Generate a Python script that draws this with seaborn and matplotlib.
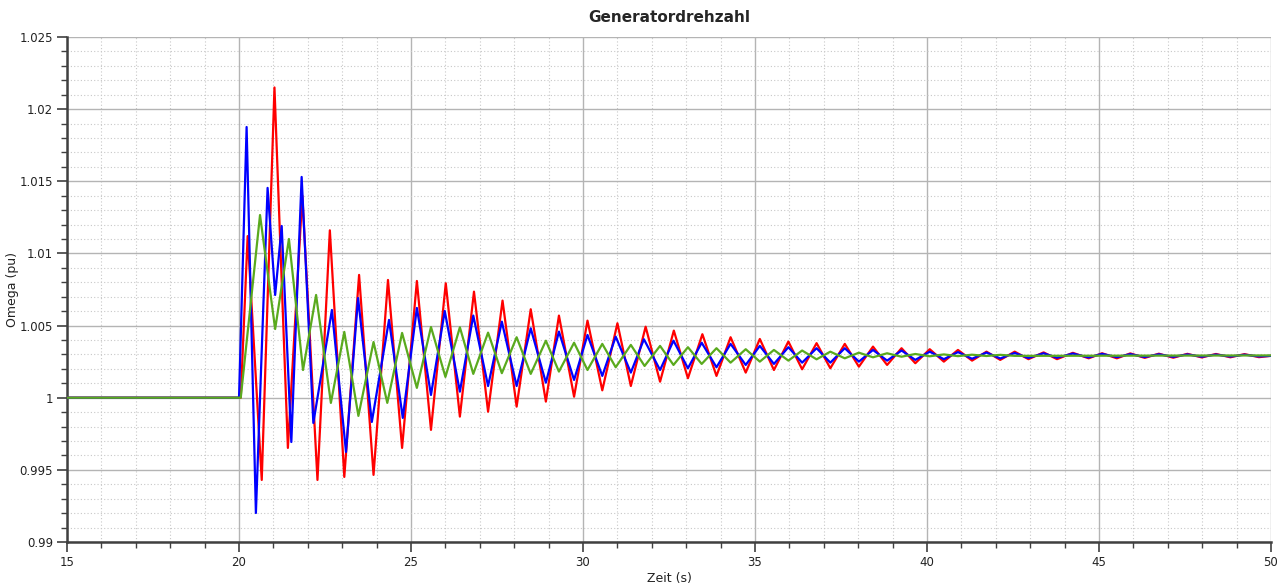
import numpy as np
import pandas as pd
import matplotlib
matplotlib.use("Agg")
import matplotlib.pyplot as plt
from matplotlib.ticker import MultipleLocator, FuncFormatter
import seaborn as sns

# Extremwerte der Kurven (Zeit in s, Omega in pu)
zeit_rot = [15.0, 20.05, 20.25, 20.66, 21.03, 21.42, 21.84, 22.28, 22.64, 23.06,
            23.49, 23.91, 24.33, 24.74, 25.17, 25.58, 26.01, 26.42, 26.83, 27.24,
            27.66, 28.07, 28.48, 28.92, 29.30, 29.74, 30.13, 30.56, 31.00, 31.39,
            31.82, 32.24, 32.64, 33.05, 33.47, 33.88, 34.29, 34.73, 35.14, 35.55,
            35.97, 36.37, 36.79, 37.19, 37.61, 38.02, 38.43, 38.84, 39.26, 39.66,
            40.08, 40.49, 40.90, 41.31, 41.73, 42.13, 42.55, 42.95, 43.39, 43.78,
            44.24, 44.70, 45.09, 45.52, 45.91, 46.33, 46.74, 47.16, 47.57, 47.99,
            48.40, 48.82, 49.23, 49.65, 50.0]
omega_rot = [1.0, 1.0, 1.0112, 0.9943, 1.0215, 0.99652, 1.0140, 0.9943, 1.0116, 0.99451,
             1.00851, 0.99465, 1.00816, 0.99652, 1.00809, 0.99777, 1.00793, 0.99869, 1.00735, 0.99903,
             1.00673, 0.99938, 1.00613, 0.99973, 1.00569, 1.00007, 1.00534, 1.00051, 1.00516, 1.00081,
             1.00492, 1.00111, 1.00465, 1.00135, 1.0044, 1.00151, 1.00419, 1.00174, 1.00407, 1.00192,
             1.00389, 1.00197, 1.00378, 1.00204, 1.00373, 1.00215, 1.00354, 1.00227, 1.00343, 1.00239,
             1.00336, 1.0025, 1.00331, 1.00257, 1.00319, 1.00262, 1.00319, 1.00267, 1.00314, 1.00267,
             1.00311, 1.00273, 1.00308, 1.00273, 1.00307, 1.00276, 1.00305, 1.00277, 1.00304, 1.00279,
             1.00303, 1.0028, 1.00302, 1.00281, 1.0029]

zeit_blau = [15.0, 20.0, 20.22, 20.49, 20.83, 21.05, 21.24, 21.52, 21.82, 22.16,
             22.70, 23.11, 23.46, 23.86, 24.36, 24.76, 25.17, 25.58, 25.98, 26.42,
             26.81, 27.24, 27.64, 28.07, 28.48, 28.92, 29.30, 29.74, 30.13, 30.56,
             30.95, 31.39, 31.77, 32.24, 32.63, 33.05, 33.45, 33.88, 34.29, 34.73,
             35.14, 35.55, 35.97, 36.37, 36.79, 37.19, 37.61, 38.02, 38.43, 38.84,
             39.26, 39.66, 40.08, 40.49, 40.90, 41.31, 41.73, 42.13, 42.55, 42.95,
             43.39, 43.78, 44.24, 44.70, 45.09, 45.52, 45.91, 46.33, 46.74, 47.16,
             47.57, 47.99, 48.40, 48.82, 49.23, 49.65, 50.0]
omega_blau = [1.0, 1.0, 1.01876, 0.99201, 1.01454, 1.00712, 1.0119, 0.99693, 1.0153, 0.99825,
              1.00608, 0.99624, 1.00691, 0.99832, 1.00539, 0.9986, 1.00622, 1.00019, 1.00601, 1.00042,
              1.00569, 1.00081, 1.00527, 1.00081, 1.00481, 1.00104, 1.00458, 1.00123, 1.00435, 1.00151,
              1.00423, 1.00174, 1.00405, 1.00192, 1.00395, 1.00204, 1.00381, 1.00211, 1.00373, 1.00227,
              1.00359, 1.00234, 1.0035, 1.00243, 1.00343, 1.00243, 1.00343, 1.0025, 1.00331, 1.00257,
              1.00327, 1.00262, 1.00319, 1.00267, 1.00316, 1.0027, 1.00313, 1.00272, 1.0031, 1.00275,
              1.00308, 1.00277, 1.00306, 1.00279, 1.00304, 1.00281, 1.00302, 1.00282, 1.00301, 1.00283,
              1.003, 1.00284, 1.00299, 1.00285, 1.00298, 1.00286, 1.0029]

zeit_gruen = [15.0, 20.05, 20.61, 21.05, 21.45, 21.86, 22.24, 22.67, 23.06, 23.47,
              23.91, 24.31, 24.74, 25.17, 25.58, 26.00, 26.42, 26.81, 27.24, 27.64,
              28.07, 28.48, 28.92, 29.30, 29.74, 30.13, 30.56, 30.95, 31.39, 31.79,
              32.24, 32.63, 33.05, 33.45, 33.88, 34.29, 34.73, 35.14, 35.55, 35.97,
              36.37, 36.79, 37.19, 37.61, 38.02, 38.43, 38.84, 39.26, 39.66, 40.08,
              40.49, 40.90, 41.31, 41.73, 42.13, 42.55, 50.0]
omega_gruen = [1.0, 1.0, 1.01266, 1.00476, 1.011, 1.00192, 1.00712, 0.99964, 1.00456, 0.99874,
               1.00386, 0.99964, 1.00449, 1.00068, 1.0049, 1.00144, 1.00488, 1.00165, 1.00451, 1.0017,
               1.00419, 1.00165, 1.00395, 1.00181, 1.00381, 1.00192, 1.00373, 1.00211, 1.00366, 1.0022,
               1.00359, 1.00227, 1.0035, 1.00234, 1.00343, 1.00243, 1.00336, 1.0025, 1.00331, 1.00257,
               1.00327, 1.00266, 1.00319, 1.00273, 1.00312, 1.0028, 1.00308, 1.00284, 1.00303, 1.00287,
               1.003, 1.00288, 1.00298, 1.00289, 1.00297, 1.0029, 1.00293]

df = pd.concat([
    pd.DataFrame({"Zeit": zeit_rot, "Omega": omega_rot, "Generator": "G1"}),
    pd.DataFrame({"Zeit": zeit_blau, "Omega": omega_blau, "Generator": "G2"}),
    pd.DataFrame({"Zeit": zeit_gruen, "Omega": omega_gruen, "Generator": "G3"}),
], ignore_index=True)

sns.set_style("white")
plt.rcParams['font.family'] = ['DejaVu Sans']

fig = plt.figure(figsize=(12.82, 5.86), dpi=100)
ax = fig.add_axes([0.0523, 0.0751, 0.9391, 0.8618])

sns.lineplot(data=df, x="Zeit", y="Omega", hue="Generator", estimator=None, sort=False,
             palette={"G1": "#ff0000", "G2": "#0000ff", "G3": "#5aaa1e"},
             linewidth=1.6, legend=False, ax=ax, zorder=3)
for line in ax.get_lines():
    line.set_solid_joinstyle("round")
    line.set_solid_capstyle("round")

ax.set_xlim(15, 50)
ax.set_ylim(0.99, 1.025)
ax.xaxis.set_major_locator(MultipleLocator(5))
ax.xaxis.set_minor_locator(MultipleLocator(1))
ax.yaxis.set_major_locator(MultipleLocator(0.005))
ax.yaxis.set_minor_locator(MultipleLocator(0.001))
ax.yaxis.set_major_formatter(FuncFormatter(lambda v, p: f"{v:g}"))
ax.xaxis.set_major_formatter(FuncFormatter(lambda v, p: f"{v:g}"))

ax.grid(which="major", color="#b4b4b4", linewidth=1.0, linestyle="-")
ax.grid(which="minor", color="#c8c8c8", linewidth=0.8, linestyle=(0, (1, 2)))
ax.set_axisbelow(True)

for s in ["top", "right"]:
    ax.spines[s].set_visible(False)
for s in ["left", "bottom"]:
    ax.spines[s].set_color("#404040")
    ax.spines[s].set_linewidth(1.8)

ax.tick_params(which="major", direction="out", length=7, width=1.2, color="#404040",
               labelsize=8.5, labelcolor="#222222", pad=3)
ax.tick_params(which="minor", direction="out", length=4, width=1.0, color="#404040")
ax.tick_params(axis="y", which="both", left=True)
ax.tick_params(axis="x", which="both", bottom=True)

ax.set_xlabel("Zeit (s)", fontsize=9, color="#222222", labelpad=2)
ax.set_ylabel("Omega (pu)", fontsize=9, color="#222222")
ax.yaxis.set_label_coords(-0.040, 0.5)
ax.set_title("Generatordrehzahl", fontsize=11, fontweight="bold", pad=11)

fig.savefig("out.png", dpi=100)
